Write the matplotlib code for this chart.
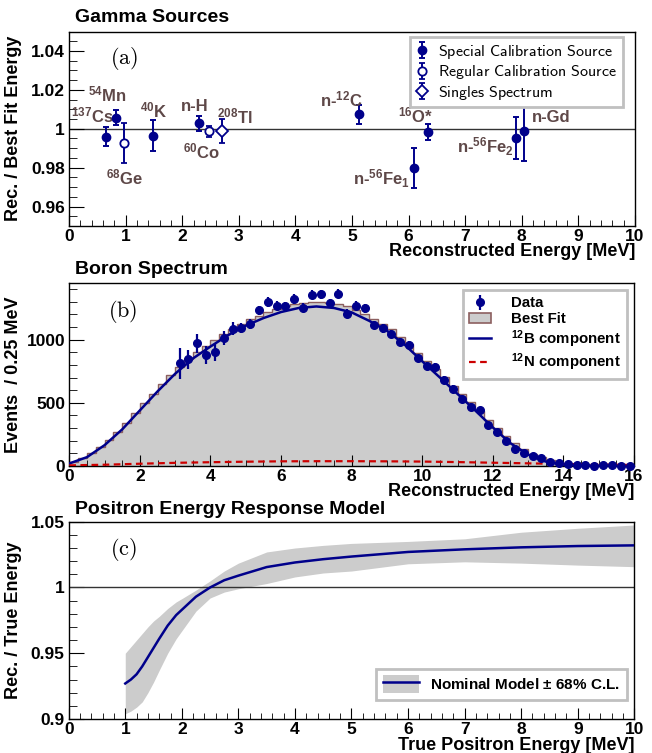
import numpy as np
import matplotlib
matplotlib.use('Agg')
import matplotlib.pyplot as plt
from matplotlib.ticker import MultipleLocator, FormatStrFormatter
from matplotlib.patches import Patch
from matplotlib.lines import Line2D

plt.rcParams['font.family'] = ['Liberation Sans', 'DejaVu Sans']
plt.rcParams['font.weight'] = 'bold'
plt.rcParams['axes.labelweight'] = 'bold'
plt.rcParams['mathtext.fontset'] = 'custom'
plt.rcParams['mathtext.rm'] = 'Liberation Sans:bold'
plt.rcParams['mathtext.it'] = 'Liberation Sans:bold'
plt.rcParams['mathtext.bf'] = 'Liberation Sans:bold'

NAVY = '#00008b'
BROWN = '#5e4848'
GRAY = '#cccccc'
EDGE = '#8c5f5f'
RED = '#cc0000'

## (a) gamma sources: energy, ratio, error
special_e = [0.65, 0.83, 1.48, 2.30, 5.12, 6.09, 6.35, 7.89, 8.04]
special_r = [0.996, 1.0057, 0.9964, 1.0027, 1.0074, 0.9798, 0.9983, 0.9952, 0.9988]
special_err = [0.005, 0.004, 0.008, 0.004, 0.005, 0.0105, 0.004, 0.011, 0.0153]
regular_e = [0.97, 2.47]
regular_r = [0.9928, 0.9988]
regular_err = [0.0102, 0.0028]
singles_e = [2.71]
singles_r = [0.9988]
singles_err = [0.0062]

source_names = [r'$^{137}$Cs', r'$^{54}$Mn', r'$^{68}$Ge', r'$^{40}$K', 'n-H', r'$^{60}$Co',
                r'$^{208}$Tl', r'n-$^{12}$C', r'$^{16}$O*', r'n-$^{56}$Fe$_{1}$',
                r'n-$^{56}$Fe$_{2}$', 'n-Gd']
# label anchor (left, baseline) in data coords
name_pos = [(0.04, 1.0031), (0.34, 1.014), (0.65, 0.9716), (1.25, 1.0057), (1.98, 1.0093),
            (2.01, 0.9845), (2.61, 1.0026), (4.43, 1.0114), (5.81, 1.0031), (5.02, 0.9711),
            (6.86, 0.9876), (8.18, 1.0036)]

## (b) boron spectrum, 0.25 MeV bins
bin_width = 0.25
fit_hist = [34, 62, 100, 149, 207, 271, 341, 418, 497, 573, 646, 718, 785, 846, 901, 949,
            997, 1043, 1086, 1124, 1159, 1189, 1217, 1242, 1263, 1279, 1290, 1297, 1297, 1291,
            1279, 1262, 1236, 1203, 1165, 1127, 1080, 1024, 963, 896, 831, 766, 701, 635, 569,
            503, 435, 366, 300, 236, 182, 135, 96, 68, 46, 32, 23, 18, 15, 13, 12, 11, 10, 9]
data_counts = [811, 843, 970, 880, 901, 1013, 1087, 1092, 1122, 1231, 1297, 1268, 1262, 1321,
               1252, 1356, 1358, 1289, 1364, 1206, 1268, 1249, 1116, 1090, 1045, 983, 957, 851,
               789, 784, 683, 611, 532, 470, 444, 327, 266, 199, 133, 101, 80, 61, 32, 24, 19,
               8, 11, 3, 5, 5, 3, 2]
data_err = [120, 75, 75, 72, 68, 55, 50, 40, 38, 37, 37, 37, 36, 36, 36, 36, 36, 36, 36, 35,
            35, 35, 34, 34, 33, 33, 32, 31, 30, 30, 29, 28, 27, 26, 25, 23, 21, 19, 17, 15,
            14, 13, 12, 11, 11, 10, 10, 9, 9, 9, 8, 8]
data_first_bin = 12
b12_e = [0, 0.5, 1, 1.5, 2, 2.5, 3, 3.5, 4, 4.5, 5, 5.5, 6, 6.5, 7, 7.5, 8, 8.5, 9, 9.5, 10,
         10.5, 11, 11.5, 12, 12.5, 13, 13.5, 14, 14.5, 15, 15.5, 16]
b12_counts = [20, 70, 165, 290, 440, 590, 730, 850, 945, 1035, 1110, 1170, 1218, 1250, 1262,
              1250, 1215, 1148, 1070, 960, 828, 700, 570, 440, 305, 180, 90, 35, 8, 1, 0, 0, 0]
n12_e = [0, 1, 2, 3, 4, 5, 6, 7, 8, 9, 10, 11, 12, 13, 14, 15, 16]
n12_counts = [5, 10, 18, 25, 30, 34, 37, 38, 38, 37, 35, 31, 26, 21, 16, 12, 8]

## (c) positron response model
pos_e = [1.0, 1.1, 1.2, 1.3, 1.4, 1.5, 1.6, 1.75, 1.9, 2.0, 2.25, 2.5, 2.75, 3.0, 3.5, 4.0,
         4.5, 5.0, 6.0, 7.0, 8.0, 9.0, 10.0]
pos_nominal = [0.927, 0.930, 0.934, 0.940, 0.947, 0.954, 0.961, 0.971, 0.979, 0.983, 0.993,
               1.000, 1.0055, 1.009, 1.0155, 1.019, 1.0215, 1.0235, 1.027, 1.029, 1.0305,
               1.0315, 1.032]
pos_upper = [0.950, 0.955, 0.960, 0.965, 0.970, 0.9745, 0.978, 0.984, 0.989, 0.9915, 0.998,
             1.005, 1.0125, 1.0185, 1.027, 1.030, 1.032, 1.0335, 1.035, 1.037, 1.042, 1.045,
             1.0475]
pos_lower = [0.904, 0.906, 0.909, 0.913, 0.920, 0.928, 0.937, 0.950, 0.961, 0.967, 0.982,
             0.992, 0.9965, 0.999, 1.003, 1.008, 1.011, 1.0125, 1.018, 1.0195, 1.0185, 1.017,
             1.0158]


def style_axes(ax, xmaj, xmin, ymaj, ymin):
    ax.xaxis.set_major_locator(MultipleLocator(xmaj))
    ax.xaxis.set_minor_locator(MultipleLocator(xmin))
    ax.yaxis.set_major_locator(MultipleLocator(ymaj))
    ax.yaxis.set_minor_locator(MultipleLocator(ymin))
    ax.yaxis.set_major_formatter(FormatStrFormatter('%g'))
    ax.tick_params(which='both', direction='in', top=False, right=False, labelsize=12.5)
    ax.tick_params(axis='y', which='major', length=11, pad=3)
    ax.tick_params(axis='y', which='minor', length=6)
    ax.tick_params(axis='x', which='major', length=8, pad=2)
    ax.tick_params(axis='x', which='minor', length=4.5)
    for lbl in ax.get_xticklabels() + ax.get_yticklabels():
        lbl.set_fontweight('bold')
    for s in ax.spines.values():
        s.set_linewidth(1.0)


def labels(ax, xlabel, ylabel, xly):
    ax.set_xlabel(xlabel, loc='right', fontsize=13, fontweight='bold')
    ax.xaxis.set_label_coords(1.0, xly)
    ax.xaxis.label.set_va('center')
    ax.set_ylabel(ylabel, fontsize=13, fontweight='bold')
    ax.yaxis.set_label_coords(-0.083, 0.5)


def frame(leg):
    leg.get_frame().set_linewidth(2)
    leg.get_frame().set_edgecolor('#c0c0c0')


fig = plt.figure(figsize=(6.52, 7.53), dpi=100)


def px_axes(left, top, right, bottom):
    W, H = 652, 753
    return fig.add_axes([left / W, 1 - bottom / H, (right - left) / W, (bottom - top) / H])


# ---------------- (a)
ax1 = px_axes(69, 31.5, 635, 226)
ax1.axhline(1.0, color='#333333', lw=1.0, zorder=1)
h1 = ax1.errorbar(special_e, special_r, yerr=special_err, fmt='o', color=NAVY, ms=6,
                  elinewidth=1.4, capsize=2, capthick=1.4, zorder=3)
h2 = ax1.errorbar(regular_e, regular_r, yerr=regular_err, fmt='o', color=NAVY, mfc='white',
                  mew=1.3, ms=6, elinewidth=1.4, capsize=2, capthick=1.4, zorder=3)
h3 = ax1.errorbar(singles_e, singles_r, yerr=singles_err, fmt='D', color=NAVY, mfc='white',
                  mew=1.3, ms=6, elinewidth=1.4, capsize=2, capthick=1.4, zorder=3)
for name, (x, y) in zip(source_names, name_pos):
    ax1.text(x, y, name, color=BROWN, fontsize=12, fontweight='bold', va='baseline', ha='left')
ax1.set_xlim(0, 10)
ax1.set_ylim(0.95, 1.05)
style_axes(ax1, 1, 0.2, 0.02, 0.005)
labels(ax1, 'Reconstructed Energy [MeV]', 'Rec. / Best Fit Energy', -0.133)
leg1 = ax1.legend([h1, h2, h3],
                  [r'$\mathsf{Special\ Calibration\ Source}$',
                   r'$\mathsf{Regular\ Calibration\ Source}$',
                   r'$\mathsf{Singles\ Spectrum}$'],
                  loc='upper right', bbox_to_anchor=(0.978, 0.971), borderaxespad=0,
                  fontsize=11.5, handlelength=0.8, handletextpad=0.6, labelspacing=0.15,
                  borderpad=0.35, fancybox=False, framealpha=1)
frame(leg1)
for t in leg1.get_texts():
    t.set_math_fontfamily('cm')
ax1.text(0.097, 0.862, r'$\mathrm{(a)}$', transform=ax1.transAxes, fontsize=16,
         ha='center', va='center', math_fontfamily='cm')

# ---------------- (b)
ax2 = px_axes(69.3, 282.7, 634, 466)
edges = np.arange(len(fit_hist) + 1) * bin_width
centers = edges[:-1] + bin_width / 2
ax2.stairs(fit_hist, edges, fill=True, color=GRAY, zorder=1)
ax2.stairs(fit_hist, edges, fill=False, edgecolor=EDGE, lw=1.0, zorder=2)
ax2.plot(b12_e, b12_counts, color=NAVY, lw=1.8, zorder=3)
ax2.plot(n12_e, n12_counts, color=RED, lw=1.6, ls=(0, (3, 2)), zorder=3)
hd = ax2.errorbar(centers[data_first_bin:], data_counts, yerr=data_err, fmt='o', color=NAVY,
                  ms=5.5, elinewidth=1.6, capsize=0, zorder=4, clip_on=False)
ax2.set_xlim(0, 16)
ax2.set_ylim(0, 1450)
style_axes(ax2, 2, 0.5, 500, 100)
labels(ax2, 'Reconstructed Energy [MeV]', 'Events  / 0.25 MeV', -0.14)
leg2 = ax2.legend([hd, Patch(facecolor=GRAY, edgecolor=EDGE, lw=1.2),
                   Line2D([], [], color=NAVY, lw=1.8),
                   Line2D([], [], color=RED, lw=1.6, ls=(0, (3, 2)))],
                  ['Data', 'Best Fit', r'$^{12}$B component', r'$^{12}$N component'],
                  loc='upper right', bbox_to_anchor=(0.987, 0.9585), borderaxespad=0,
                  fontsize=10.8, handlelength=1.5, handletextpad=1.3, labelspacing=0.12,
                  borderpad=0.4, fancybox=False, framealpha=1)
frame(leg2)
ax2.text(0.095, 0.842, r'$\mathrm{(b)}$', transform=ax2.transAxes, fontsize=16,
         ha='center', va='center', math_fontfamily='cm')

# ---------------- (c)
ax3 = px_axes(68.7, 521.7, 634.3, 719)
ax3.fill_between(pos_e, pos_lower, pos_upper, color=GRAY, lw=0, zorder=1)
ax3.axhline(1.0, color='#333333', lw=1.0, zorder=2)
ax3.plot(pos_e, pos_nominal, color=NAVY, lw=1.8, zorder=3)
ax3.set_xlim(0, 10)
ax3.set_ylim(0.9, 1.05)
style_axes(ax3, 1, 0.2, 0.05, 0.01)
labels(ax3, 'True Positron Energy [MeV]', 'Rec. / True Energy', -0.132)
leg3 = ax3.legend([(Patch(facecolor=GRAY, lw=0), Line2D([], [], color=NAVY, lw=1.8))],
                  [r'Nominal Model $\pm$ 68% C.L.'],
                  loc='lower right', bbox_to_anchor=(0.9866, 0.0963), borderaxespad=0,
                  fontsize=11, handlelength=2.4, handleheight=1.4, handletextpad=0.7,
                  borderpad=0.45, fancybox=False, framealpha=1)
frame(leg3)
ax3.text(0.096, 0.857, r'$\mathrm{(c)}$', transform=ax3.transAxes, fontsize=16,
         ha='center', va='center', math_fontfamily='cm')

# titles
for y, title in [(18, 'Gamma Sources'), (269, 'Boron Spectrum'),
                 (510, 'Positron Energy Response Model')]:
    fig.text(75 / 652, 1 - y / 753, title, fontsize=14, fontweight='bold', va='center', ha='left')

fig.savefig('out.png', dpi=100)
